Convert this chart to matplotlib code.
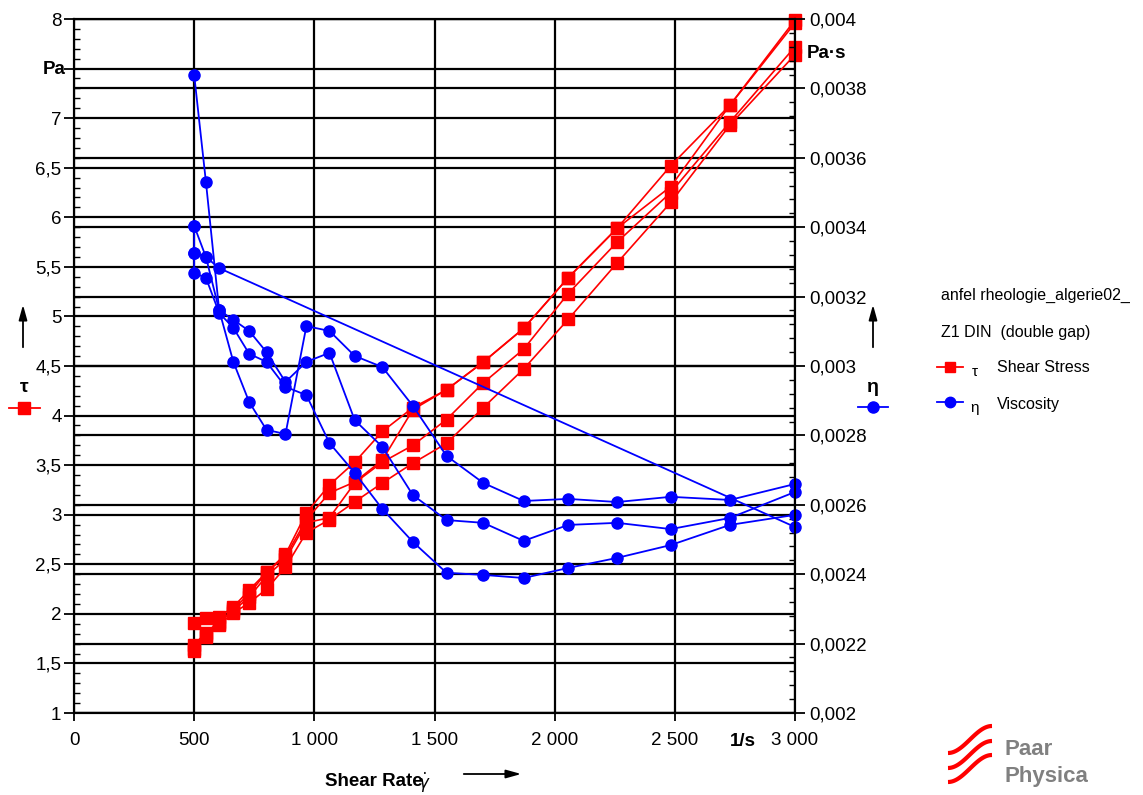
import numpy as np
import matplotlib.pyplot as plt
from matplotlib.ticker import MultipleLocator

plt.rcParams['font.family'] = ['Liberation Sans', 'DejaVu Sans']

# shear rate steps (1/s)
shear_rate = [500, 549, 604, 663, 729, 801, 880, 967, 1063, 1168,
              1283, 1410, 1550, 1703, 1871, 2056, 2260, 2483, 2729, 3000]

# shear stress (Pa), four ramps
stress_1 = [1.63, 1.77, 1.89, 2.01, 2.11, 2.25, 2.47, 2.82, 2.95, 3.13,
            3.32, 3.52, 3.72, 4.08, 4.47, 4.97, 5.54, 6.15, 6.93, 7.64]
stress_2 = [1.69, 1.81, 1.92, 2.03, 2.17, 2.38, 2.55, 2.92, 2.97, 3.32,
            3.53, 3.70, 3.96, 4.33, 4.67, 5.23, 5.75, 6.25, 6.96, 7.72]
stress_3 = [1.65, 1.79, 1.90, 2.05, 2.20, 2.42, 2.58, 2.95, 3.22, 3.33,
            3.55, 4.06, 4.26, 4.54, 4.88, 5.39, 5.89, 6.31, 7.13, 7.96]
stress_4 = [1.91, 1.96, 1.97, 2.07, 2.24, 2.42, 2.60, 3.02, 3.30, 3.53,
            3.84, 4.08, 4.26, 4.54, 4.88, 5.39, 5.89, 6.52, 7.13, 7.99]

# viscosity (Pa*s)
visc_a_rate = shear_rate
visc_a = [0.003839, 0.003530, 0.003161, 0.003012, 0.002896, 0.002816, 0.002804,
          0.003115, 0.003101, 0.003029, 0.002997, 0.002885, 0.002741, 0.002663,
          0.002611, 0.002617, 0.002608, 0.002623, 0.002614, 0.002660]
visc_b_rate = [3000, 604, 549, 500]
visc_b = [0.002536, 0.003282, 0.003314, 0.003404]
visc_c_rate = [500] + shear_rate
visc_c = [0.003404, 0.003326, 0.003314, 0.003161, 0.003133, 0.003101, 0.003040,
          0.002954, 0.003012, 0.003038, 0.002844, 0.002767, 0.002628, 0.002556,
          0.002548, 0.002496, 0.002542, 0.002548, 0.002530, 0.002562, 0.002637]
visc_d_rate = [500] + shear_rate
visc_d = [0.003326, 0.003268, 0.003254, 0.003153, 0.003110, 0.003035, 0.003012,
          0.002940, 0.002916, 0.002778, 0.002692, 0.002588, 0.002493, 0.002404,
          0.002398, 0.002389, 0.002418, 0.002447, 0.002484, 0.002542, 0.002571]

x_ticks = [0, 500, 1000, 1500, 2000, 2500, 3000]
x_labels = ['0', '500', '1 000', '1 500', '2 000', '2 500', '3 000']
left_ticks = [1, 1.5, 2, 2.5, 3, 3.5, 4, 4.5, 5, 5.5, 6, 6.5, 7, 7.5, 8]
left_labels = ['1', '1,5', '2', '2,5', '3', '3,5', '4', '4,5', '5', '5,5',
               '6', '6,5', '7', '', '8']
right_ticks = [0.002, 0.0022, 0.0024, 0.0026, 0.0028, 0.003, 0.0032,
               0.0034, 0.0036, 0.0038, 0.004]
right_labels = ['0,002', '0,0022', '0,0024', '0,0026', '0,0028', '0,003',
                '0,0032', '0,0034', '0,0036', '0,0038', '0,004']

RED = '#ff0000'
BLUE = '#0000ff'
W, H = 1143, 795
fig = plt.figure(figsize=(W / 100, H / 100), dpi=100)
pos = [74 / W, 1 - 713 / H, (795 - 74) / W, (713 - 19) / H]

# grid for the right axis, behind everything
axg = fig.add_axes(pos, zorder=0)
axg.set_xlim(0, 3000)
axg.set_ylim(0.002, 0.004)
axg.set_yticks(right_ticks)
axg.set_xticks([])
axg.tick_params(left=False, labelleft=False)
axg.grid(axis='y', color='black', lw=1.6)
for s in axg.spines.values():
    s.set_visible(False)

ax = fig.add_axes(pos, zorder=1)
ax.patch.set_visible(False)
ax.set_xlim(0, 3000)
ax.set_ylim(1, 8)
ax.set_xticks(x_ticks)
ax.set_xticklabels(x_labels, fontsize=13.5)
ax.set_yticks(left_ticks)
ax.set_yticklabels(left_labels, fontsize=13.5)
ax.yaxis.set_minor_locator(MultipleLocator(0.1))
ax.tick_params(axis='y', which='major', direction='out', length=7, width=1.3, pad=2)
ax.tick_params(axis='y', which='minor', direction='in', length=4, width=1)
ax.tick_params(axis='x', direction='out', length=6, width=1.3, pad=8)
ax.set_axisbelow(True)
ax.grid(color='black', lw=1.6)
for s in ax.spines.values():
    s.set_linewidth(1.5)

for s in [stress_1, stress_2, stress_3, stress_4]:
    ax.plot(shear_rate, s, color=RED, lw=1.2, marker='s', ms=8, mec=RED, clip_on=False)

ax2 = ax.twinx()
ax2.set_zorder(2)
ax2.patch.set_visible(False)
ax2.set_ylim(0.002, 0.004)
ax2.set_yticks(right_ticks)
ax2.set_yticklabels(right_labels, fontsize=13.5)
ax2.yaxis.set_minor_locator(MultipleLocator(0.00004))
ax2.tick_params(axis='y', which='major', direction='out', length=7, width=1.3, pad=3)
ax2.tick_params(axis='y', which='minor', direction='in', length=4, width=1)
for s in ax2.spines.values():
    s.set_linewidth(1.5)

for xr, v in [(visc_a_rate, visc_a), (visc_b_rate, visc_b),
              (visc_c_rate, visc_c), (visc_d_rate, visc_d)]:
    ax2.plot(xr, v, color=BLUE, lw=1.3, marker='o', ms=8, mec=BLUE, clip_on=False)

# overlay in pixel coordinates for labels, arrows, legend and logo
ov = fig.add_axes([0, 0, 1, 1], zorder=3)
ov.patch.set_visible(False)
ov.set_xlim(0, W)
ov.set_ylim(H, 0)
ov.axis('off')

ov.text(66, 69, 'Pa', fontsize=13.5, fontweight='bold', ha='right', va='center')
ov.text(807, 53, 'Pa\u00b7s', fontsize=13.5, fontweight='bold', ha='left', va='center')
ov.text(743, 741, '1/s', fontsize=13.5, fontweight='bold', ha='center', va='center')

# axis symbols
arrow = dict(arrowstyle='-|>,head_length=0.9,head_width=0.25', color='black', lw=1.3)
ov.annotate('', xy=(23, 302), xytext=(23, 350), arrowprops=arrow)
ov.annotate('', xy=(873, 302), xytext=(873, 350), arrowprops=arrow)
ov.annotate('', xy=(524, 774), xytext=(461, 774), arrowprops=arrow)
ov.text(24, 387, '\u03c4', fontsize=14, fontweight='bold', ha='center', va='center')
ov.text(873, 388, '\u03b7', fontsize=14, fontweight='bold', ha='center', va='center')
ov.plot([9, 40], [408, 408], color=RED, lw=1.3)
ov.plot([24], [408], marker='s', ms=8, color=RED)
ov.plot([858, 888], [407, 407], color=BLUE, lw=1.3)
ov.plot([873], [407], marker='o', ms=8, color=BLUE)

ov.text(374, 781, 'Shear Rate', fontsize=13.5, fontweight='bold', ha='center', va='center')
ov.text(424, 783, r'$\dot{\gamma}$', fontsize=12, ha='center', va='center')

# legend block
ov.text(941, 295, 'anfel rheologie_algerie02_', fontsize=11.5, va='center')
ov.text(941, 332, 'Z1 DIN  (double gap)', fontsize=11.5, va='center')
ov.plot([937, 963], [367, 367], color=RED, lw=1.3)
ov.plot([950], [367], marker='s', ms=7, color=RED)
ov.text(975, 372, '\u03c4', fontsize=11, ha='center', va='center')
ov.text(997, 368, 'Shear Stress', fontsize=11.5, va='center')
ov.plot([937, 963], [402, 402], color=BLUE, lw=1.3)
ov.plot([950], [402], marker='o', ms=7.5, color=BLUE)
ov.text(975, 408, '\u03b7', fontsize=11, ha='center', va='center')
ov.text(997, 405, 'Viscosity', fontsize=11.5, va='center')

# logo
t = np.linspace(0, 1, 60)
for y0 in [753, 768, 782]:
    ov.plot(948 + 44 * t, y0 - 27 * (1 - np.cos(np.pi * t)) / 2, color=RED, lw=3,
            solid_capstyle='butt')
ov.text(1005, 755, 'Paar', fontsize=16, fontweight='bold', color='#808080', va='baseline')
ov.text(1005, 782, 'Physica', fontsize=16, fontweight='bold', color='#808080', va='baseline')

fig.savefig('out.png', dpi=100)
